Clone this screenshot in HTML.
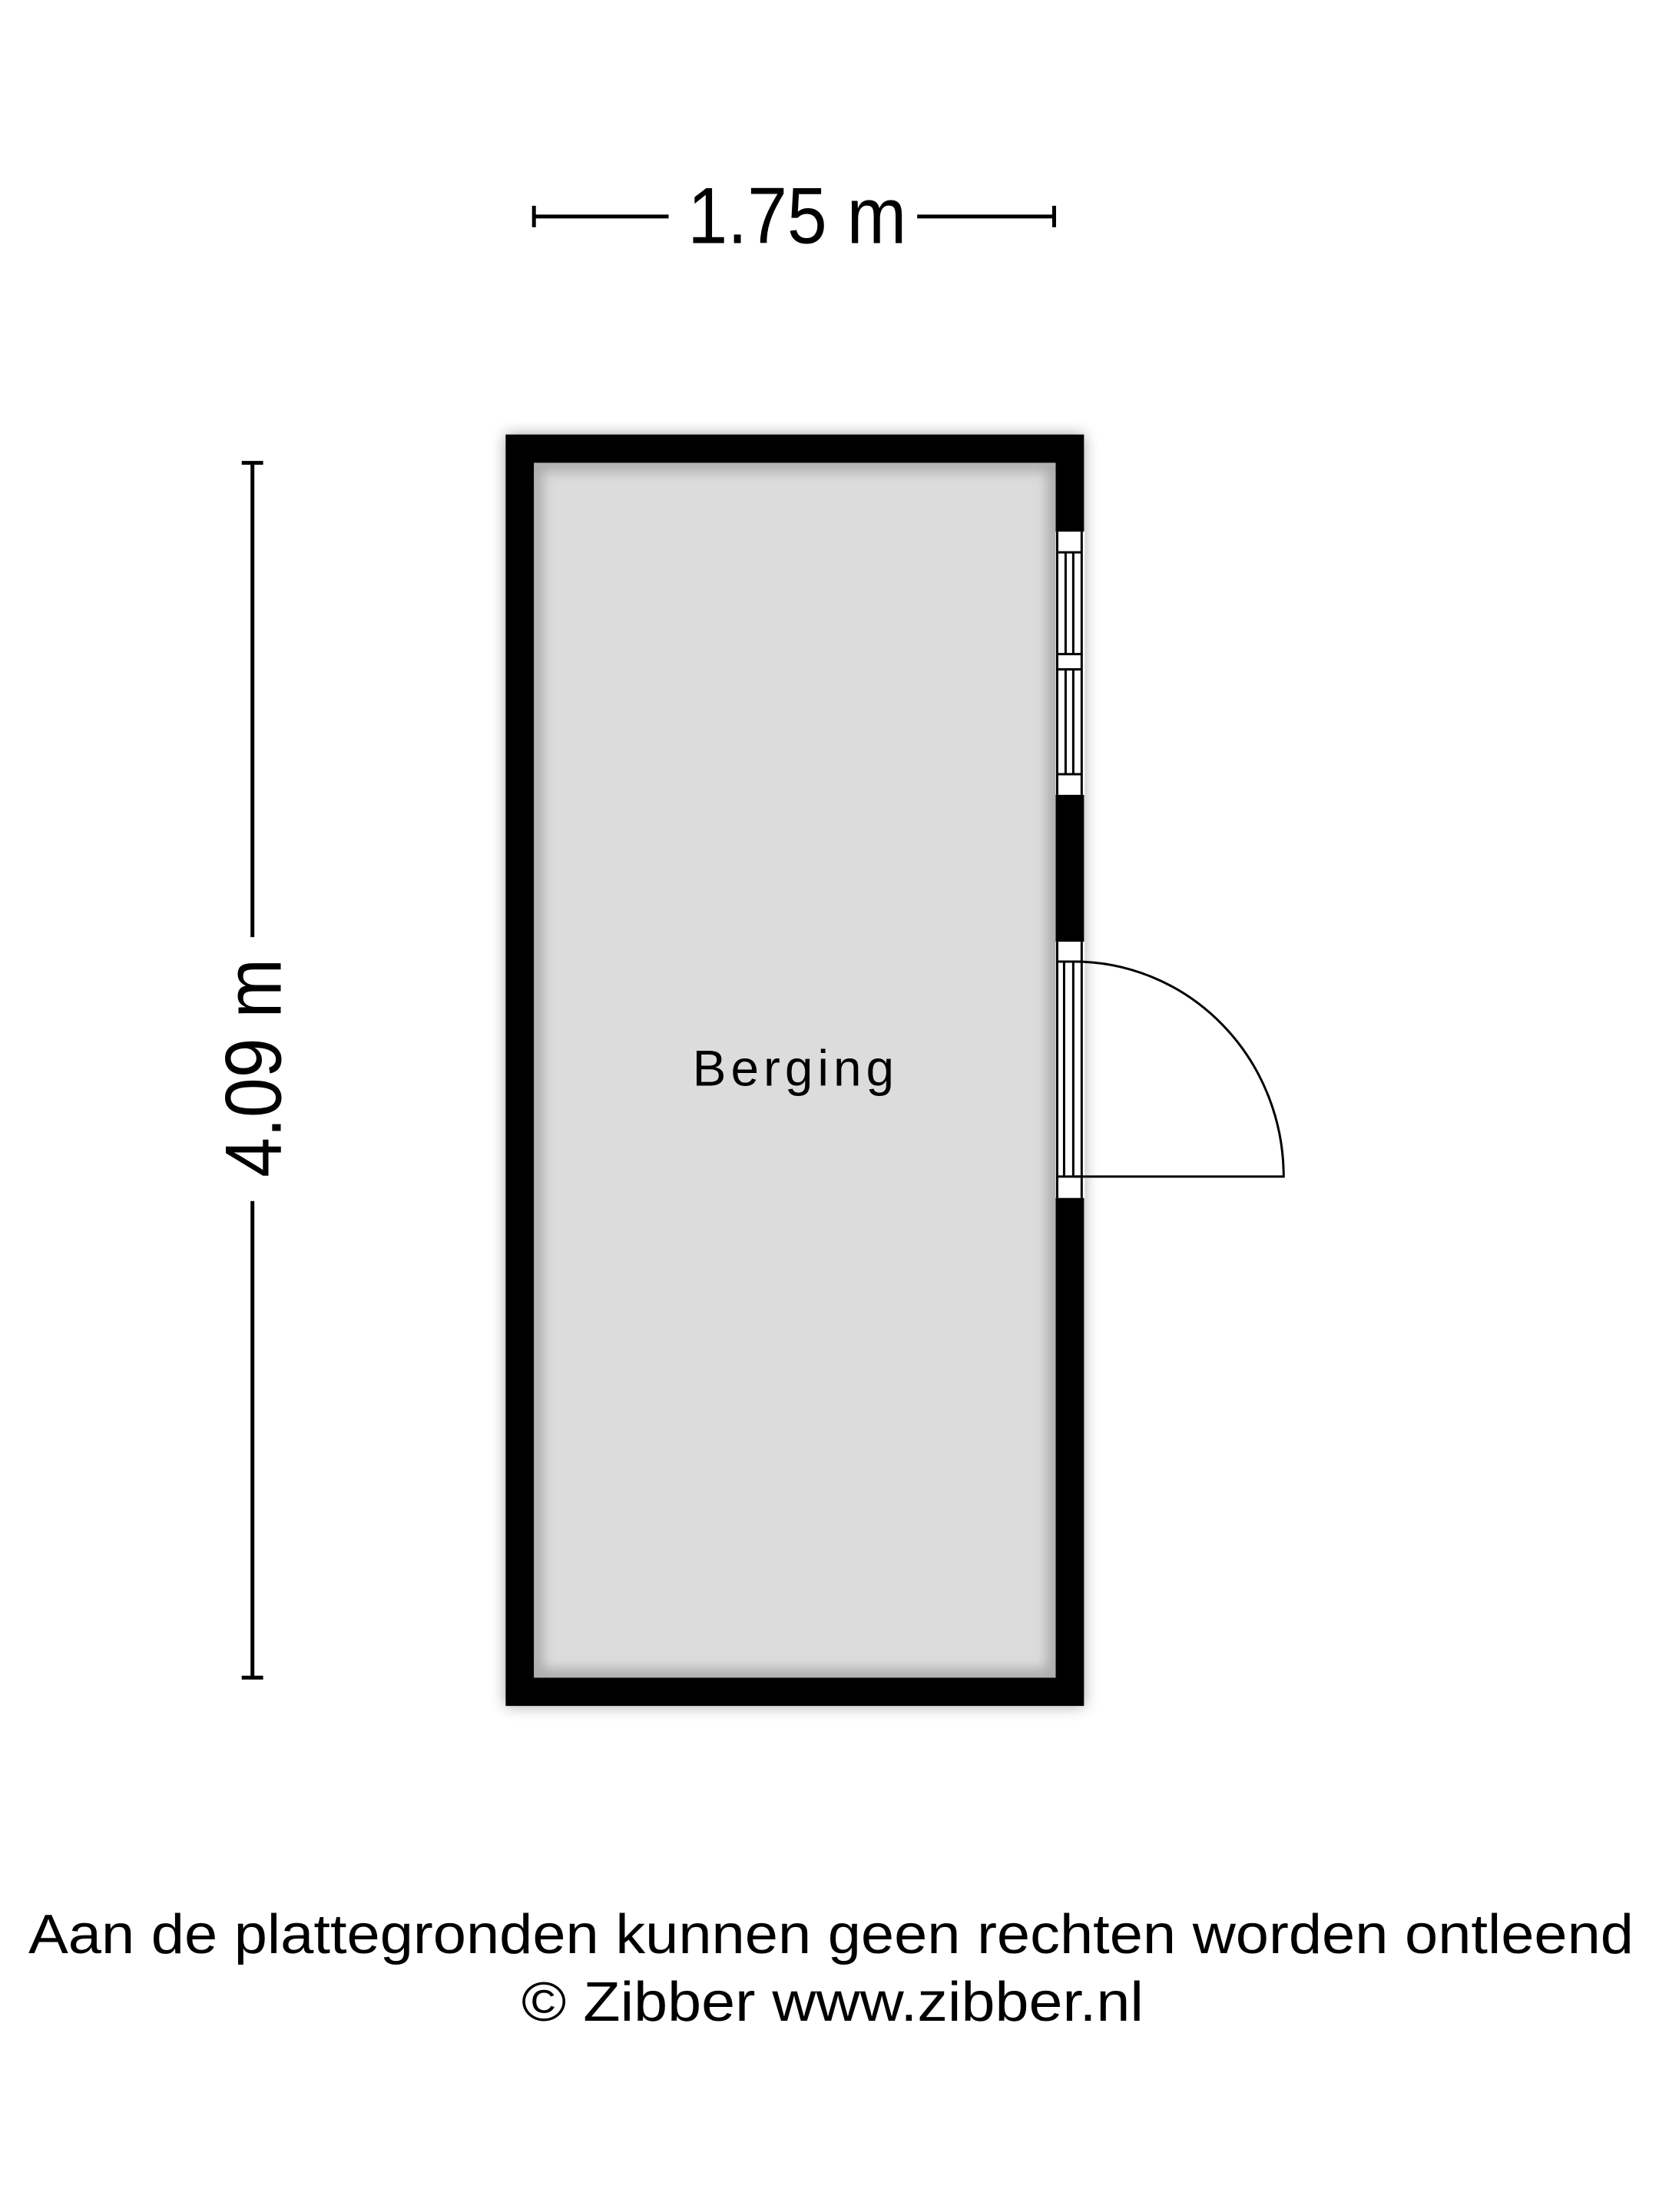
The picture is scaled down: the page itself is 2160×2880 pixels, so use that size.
<!DOCTYPE html>
<html><head><meta charset="utf-8"><style>html,body{margin:0;padding:0;background:#fff}svg{display:block}</style></head>
<body>
<svg width="2160" height="2880" viewBox="0 0 2160 2880" xmlns="http://www.w3.org/2000/svg">
<defs>
<filter id="sh" x="-10%" y="-10%" width="120%" height="120%"><feGaussianBlur stdDeviation="10"/></filter>
<filter id="ish" x="-5%" y="-5%" width="110%" height="110%"><feGaussianBlur stdDeviation="8"/></filter>
<clipPath id="cin"><rect x="699" y="605" width="682" height="1588"/></clipPath>
</defs>
<rect x="0" y="0" width="2160" height="2880" fill="#fff"/>
<g transform="translate(-1 0) scale(0.996)">
<g stroke="#000" stroke-width="5">
<line x1="699" y1="283" x2="875" y2="283"/>
<line x1="1200" y1="283" x2="1379" y2="283"/>
<line x1="699" y1="269" x2="699" y2="297"/>
<line x1="1379" y1="269" x2="1379" y2="297"/>
<line x1="331" y1="605" x2="331" y2="1225"/>
<line x1="331" y1="1570" x2="331" y2="2193"/>
<line x1="317" y1="605" x2="345" y2="605"/>
<line x1="317" y1="2193" x2="345" y2="2193"/>
</g>
<text x="0" y="0" font-family="Liberation Sans, sans-serif" font-size="104" text-anchor="middle" transform="translate(1043 318) scale(0.9 1)">1.75 m</text>
<text x="0" y="0" font-family="Liberation Sans, sans-serif" font-size="104" text-anchor="middle" transform="translate(368 1396) rotate(-90) scale(0.9 1)">4.09 m</text>
<rect x="662" y="568" width="756" height="1662" fill="#000" opacity="0.35" filter="url(#sh)"/>
<rect x="662" y="568" width="756" height="1662" fill="#000"/>
<rect x="699" y="605" width="682" height="1588" fill="#dcdcdc"/>
<g clip-path="url(#cin)">
<rect x="699" y="605" width="682" height="1588" fill="none" stroke="#aaa" stroke-width="22" filter="url(#ish)"/>
</g>
<rect x="1381" y="695" width="38" height="344" fill="#fff"/>
<g fill="none" stroke="#000" stroke-width="3">
<line x1="1383" y1="695" x2="1383" y2="1039"/>
<line x1="1415" y1="695" x2="1415" y2="1039"/>
<line x1="1383" y1="722" x2="1415" y2="722"/>
<line x1="1383" y1="855" x2="1415" y2="855"/>
<line x1="1383" y1="875" x2="1415" y2="875"/>
<line x1="1383" y1="1012" x2="1415" y2="1012"/>
<line x1="1394" y1="722" x2="1394" y2="855"/>
<line x1="1404" y1="722" x2="1404" y2="855"/>
<line x1="1394" y1="875" x2="1394" y2="1012"/>
<line x1="1404" y1="875" x2="1404" y2="1012"/>
</g>
<rect x="1381" y="1231" width="38" height="335" fill="#fff"/>
<g fill="none" stroke="#000" stroke-width="3">
<line x1="1383" y1="1231" x2="1383" y2="1566"/>
<line x1="1415" y1="1231" x2="1415" y2="1566"/>
<line x1="1383" y1="1257" x2="1415" y2="1257"/>
<line x1="1383" y1="1538" x2="1415" y2="1538"/>
<line x1="1392" y1="1257" x2="1392" y2="1538"/>
<line x1="1404" y1="1257" x2="1404" y2="1538"/>
<path d="M1405 1257 A274 281 0 0 1 1679 1538 L1405 1538"/>
</g>
<text x="1041" y="1419" font-family="Liberation Sans, sans-serif" font-size="66" letter-spacing="6" text-anchor="middle">Berging</text>
</g>
<text x="1082" y="2543" font-family="Liberation Sans, sans-serif" font-size="72" text-anchor="middle" textLength="2090" lengthAdjust="spacingAndGlyphs">Aan de plattegronden kunnen geen rechten worden ontleend</text>
<text x="1084" y="2631" font-family="Liberation Sans, sans-serif" font-size="72" text-anchor="middle" textLength="810" lengthAdjust="spacingAndGlyphs">© Zibber www.zibber.nl</text>
</svg>
</body></html>
